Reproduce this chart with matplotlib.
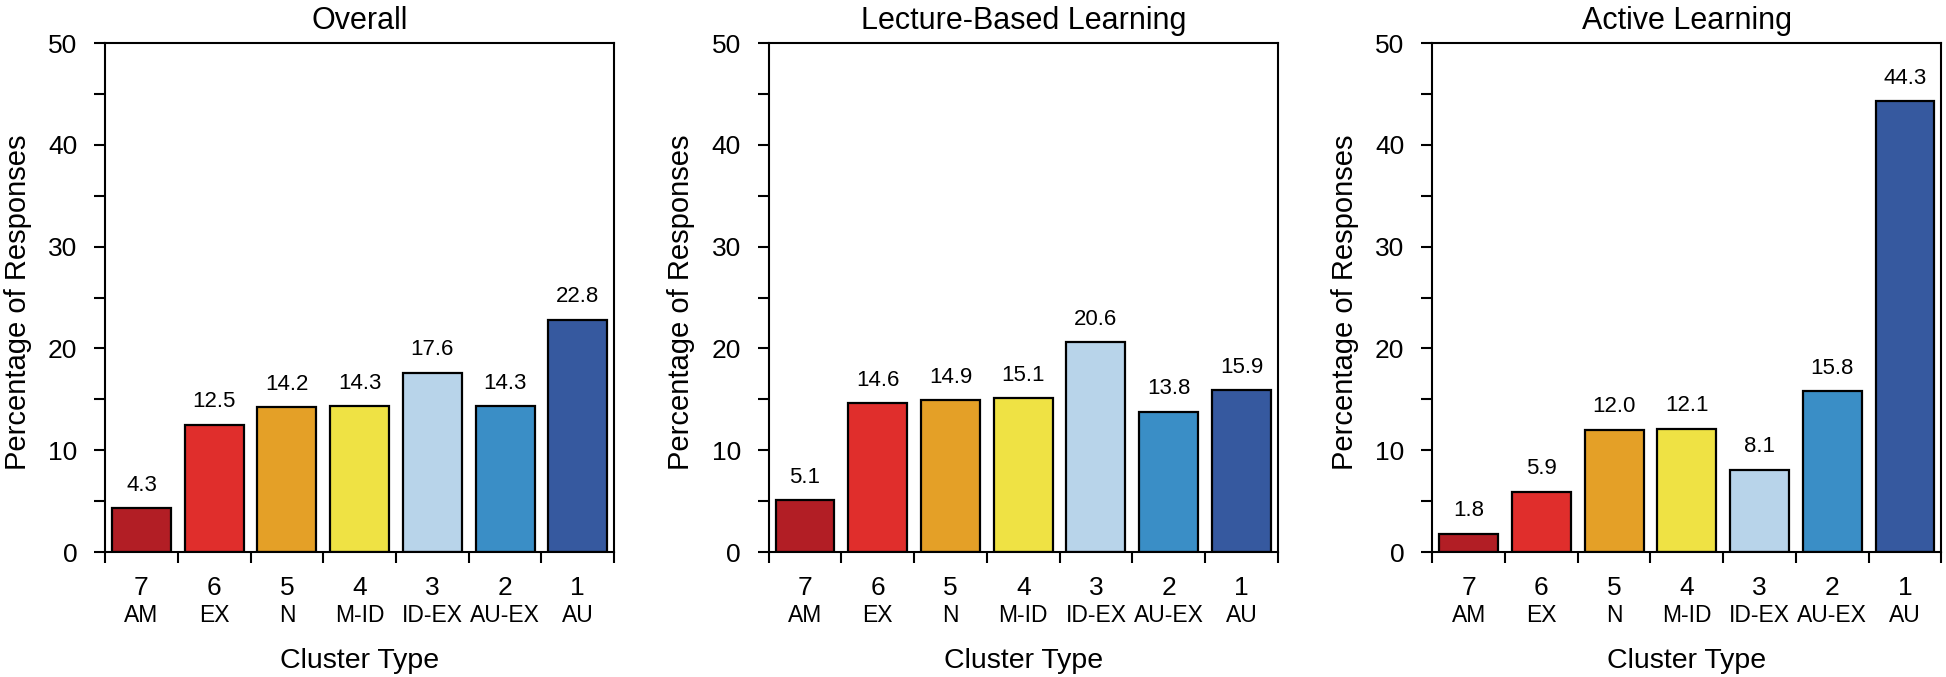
import matplotlib
matplotlib.use("Agg")
from matplotlib import pyplot as plt
import numpy as np

plt.rcParams['font.family'] = ['Liberation Sans', 'DejaVu Sans']

# data
titles = ['Overall', 'Lecture-Based Learning', 'Active Learning']
cluster_nums = ['7', '6', '5', '4', '3', '2', '1']
cluster_abbr = ['AM', 'EX', 'N', 'M-ID', 'ID-EX', 'AU-EX', 'AU']
overall = [4.3, 12.5, 14.2, 14.3, 17.6, 14.3, 22.8]
lecture = [5.1, 14.6, 14.9, 15.1, 20.6, 13.8, 15.9]
active = [1.8, 5.9, 12.0, 12.1, 8.1, 15.8, 44.3]
colors = ['#B21E25', '#E02E2C', '#E4A027', '#EFE244', '#B8D4EA', '#3A8EC6', '#36599F']

series = [overall, lecture, active]

fig = plt.figure(figsize=(19.46, 6.77), dpi=100)
lefts = [0.054, 0.395, 0.736]
w = 0.2616
b = 0.1846
h = 0.7518

x = np.arange(len(cluster_nums))

for i in range(3):
    ax = fig.add_axes([lefts[i], b, w, h])
    vals = series[i]
    ax.bar(x, vals, width=0.81, color=colors, edgecolor='black', linewidth=1.6, zorder=2)
    for xi, v in zip(x, vals):
        ax.annotate('%.1f' % v, (xi, v), xytext=(0, 9), textcoords='offset points',
                    ha='center', va='bottom', fontsize=16)

    ax.set_xlim(-0.5, 6.5)
    ax.set_ylim(0, 50)
    ax.set_yticks(np.arange(0, 51, 10))
    ax.set_yticks(np.arange(5, 50, 10), minor=True)
    ax.set_xticks(np.arange(-0.5, 7, 1))
    ax.set_xticklabels([])
    ax.tick_params(axis='y', which='both', direction='out', length=8, width=1.5, labelsize=19, pad=12)
    ax.tick_params(axis='x', direction='out', length=8, width=1.5)
    for s in ax.spines.values():
        s.set_linewidth(1.5)

    tr = ax.get_xaxis_transform()
    for xi, n, a in zip(x, cluster_nums, cluster_abbr):
        ax.text(xi, -0.07, n, transform=tr, ha='center', va='center', fontsize=19)
        ax.text(xi, -0.125, a, transform=tr, ha='center', va='center', fontsize=16.5)

    ax.text(0.5, -0.214, 'Cluster Type', transform=ax.transAxes, ha='center', va='center', fontsize=20.5)
    ax.text(-0.172, 0.49, 'Percentage of Responses', transform=ax.transAxes, ha='center', va='center',
            rotation=90, fontsize=21)
    ax.text(0.5, 1.043, titles[i], transform=ax.transAxes, ha='center', va='center', fontsize=22)

fig.savefig('out.png', dpi=100)
plt.close()
